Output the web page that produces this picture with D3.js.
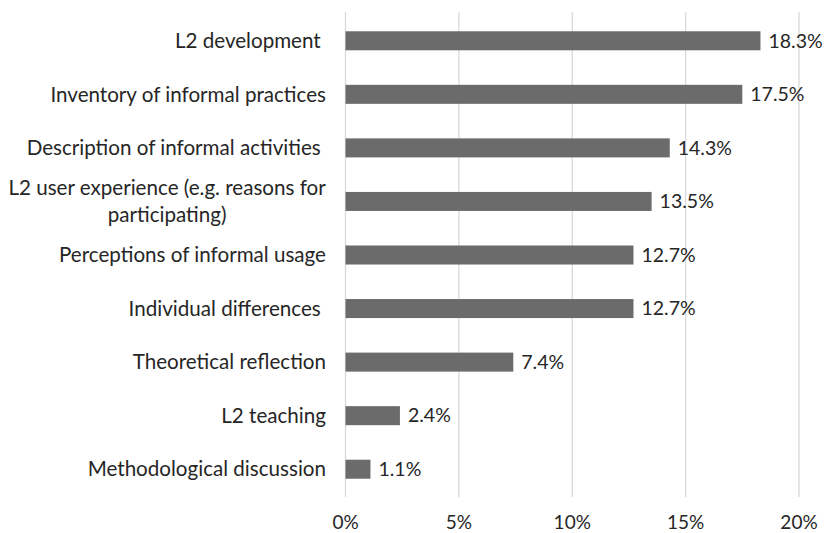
<!DOCTYPE html>
<meta charset="utf-8">
<style>
body { margin: 0; background: #fff; }
text { font-family: Lato, "Open Sans", sans-serif; fill: #262626; white-space: pre; }
</style>
<body>
<script src="https://d3js.org/d3.v7.min.js"></script>
<script>

var categories = [
	"L2 development ",
	"Inventory of informal practices",
	"Description of informal activities ",
	"L2 user experience (e.g. reasons for|participating)",
	"Perceptions of informal usage",
	"Individual differences ",
	"Theoretical reflection",
	"L2 teaching",
	"Methodological discussion"
];
var values = [18.3, 17.5, 14.3, 13.5, 12.7, 12.7, 7.4, 2.4, 1.1];
var ticks = [0, 5, 10, 15, 20];

var width = 825,
	height = 533,
	svg = d3.select("body").append("svg")
		.attr("width", width)
		.attr("height", height);

var x = d3.scaleLinear().domain([0, 20]).range([345.5, 799]);
var y = d3.scaleBand().domain(categories).range([14, 496]).paddingInner(0.645).paddingOuter(0.3225);

// gridlines
svg.selectAll("line.grid")
	.data(ticks)
	.enter().append("line")
	.attr("class", "grid")
	.attr("x1", function(d) { return x(d); })
	.attr("x2", function(d) { return x(d); })
	.attr("y1", 12)
	.attr("y2", 497)
	.attr("stroke", "#d9d9d9")
	.attr("stroke-width", 1.3);

// axis labels
svg.selectAll("text.tick")
	.data(ticks)
	.enter().append("text")
	.attr("class", "tick")
	.attr("x", function(d) { return x(d); })
	.attr("y", 522)
	.attr("dy", ".35em")
	.attr("text-anchor", "middle")
	.style("font-size", "19px")
	.text(function(d) { return d + "%"; });

// bars
svg.selectAll("rect.bar")
	.data(values)
	.enter().append("rect")
	.attr("class", "bar")
	.attr("x", x(0))
	.attr("y", function(d, i) { return y(categories[i]); })
	.attr("width", function(d) { return x(d) - x(0); })
	.attr("height", y.bandwidth())
	.attr("fill", "#6b6b6b");

// value labels
svg.selectAll("text.val")
	.data(values)
	.enter().append("text")
	.attr("class", "val")
	.attr("x", function(d) { return x(d) + 8; })
	.attr("y", function(d, i) { return y(categories[i]) + y.bandwidth() / 2; })
	.attr("dy", ".35em")
	.style("font-size", "19.5px")
	.text(function(d) { return d.toFixed(1) + "%"; });

// category labels (multi-line ones centred on their block)
var labels = svg.selectAll("g.cat")
	.data(categories)
	.enter().append("g")
	.attr("class", "cat")
	.attr("transform", function(d) { return "translate(0," + (y(d) + y.bandwidth() / 2) + ")"; });

labels.each(function(d) {
	var g = d3.select(this),
		lines = d.split("|"),
		right = 326;
	if (lines.length == 1) {
		g.append("text")
			.attr("x", right)
			.attr("dy", ".35em")
			.attr("text-anchor", "end")
			.style("font-size", "20.6px")
			.text(d);
		return;
	}
	var t = g.append("text")
		.attr("text-anchor", "middle")
		.style("font-size", "20.6px");
	lines.forEach(function(l, i) {
		t.append("tspan")
			.attr("x", 0)
			.attr("y", (i - (lines.length - 1) / 2) * 27)
			.attr("dy", ".35em")
			.text(l);
	});
	var w = t.node().getBBox().width;
	t.attr("transform", "translate(" + (right - w / 2) + ",0)");
});

</script>
</body>
</html>
